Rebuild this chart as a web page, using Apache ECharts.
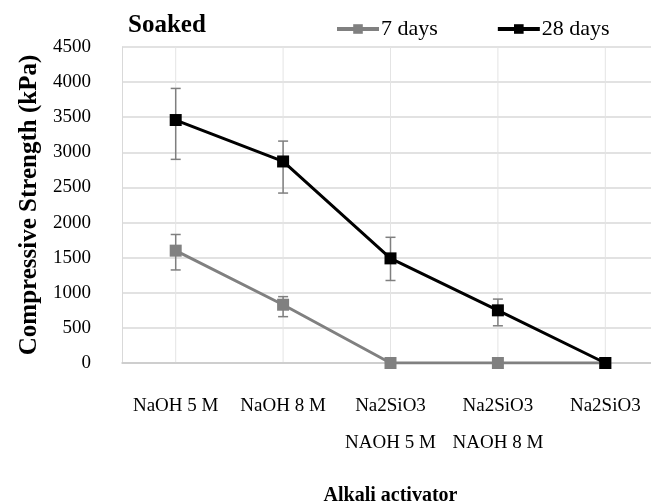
<!DOCTYPE html>
<html>
<head>
<meta charset="utf-8">
<script src="https://cdn.jsdelivr.net/npm/echarts@6/dist/echarts.min.js"></script>
<style>
  html, body { margin: 0; padding: 0; background: #fff; }
  #chart { width: 651px; height: 502px; }
</style>
</head>
<body>
<div id="chart"></div>
<script>
// Alkali activator categories (second line = NaOH molarity of the blend)
const categories = ['NaOH 5 M', 'NaOH 8 M', 'Na2SiO3\nNAOH 5 M', 'Na2SiO3\nNAOH 8 M', 'Na2SiO3'];

// Compressive strength (kPa), soaked specimens
const days7 = [1600, 830, 0, 0, 0];
const days28 = [3460, 2870, 1490, 750, 0];

// Error bar extents (low, high) per category; null = no bar
const days7Low = [1325, 660, null, null, null];
const days7High = [1830, 945, null, null, null];
const days28Low = [2900, 2420, 1175, 530, null];
const days28High = [3910, 3160, 1790, 910, null];

// Y axis ticks
const yMin = 0, yMax = 4500, yStep = 500;

const FONT = 'Liberation Serif';
const GRID_COLOR = '#d9d9d9';
const ERR_COLOR = '#7f7f7f';

function errData(low, high) {
  const out = [];
  low.forEach((lo, i) => { if (lo !== null) out.push([i, lo, high[i]]); });
  return out;
}

function renderErr(params, api) {
  const x = api.value(0);
  const lo = api.coord([x, api.value(1)]);
  const hi = api.coord([x, api.value(2)]);
  const cap = 5;
  const style = { stroke: ERR_COLOR, lineWidth: 1.5 };
  return {
    type: 'group',
    children: [
      { type: 'line', shape: { x1: lo[0], y1: lo[1], x2: hi[0], y2: hi[1] }, style },
      { type: 'line', shape: { x1: lo[0] - cap, y1: lo[1], x2: lo[0] + cap, y2: lo[1] }, style },
      { type: 'line', shape: { x1: hi[0] - cap, y1: hi[1], x2: hi[0] + cap, y2: hi[1] }, style }
    ]
  };
}

// vertical gridlines through each category centre
function renderVGrid(params, api) {
  const x = api.value(0);
  const top = api.coord([x, yMax]);
  const bot = api.coord([x, yMin]);
  return {
    type: 'line',
    shape: { x1: top[0], y1: top[1], x2: bot[0], y2: bot[1] },
    style: { stroke: '#e4e4e4', lineWidth: 1 }
  };
}

const chart = echarts.init(document.getElementById('chart'), null, { renderer: 'canvas' });

chart.setOption({
  animation: false,
  backgroundColor: '#fff',
  title: {
    text: 'Soaked',
    left: 128,
    top: 13,
    padding: 0,
    textStyle: { fontFamily: FONT, fontWeight: 'bold', fontSize: 25, color: '#000' }
  },
  legend: {
    left: 335,
    top: 18,
    padding: 0,
    itemWidth: 42,
    itemHeight: 12,
    itemGap: 58,
    data: ['7 days', '28 days'],
    lineStyle: { width: 4 },
    textStyle: { fontFamily: FONT, fontSize: 22, color: '#000', padding: [0, 0, 0, -3] }
  },
  grid: { left: 122, top: 47, width: 537, height: 316, outerBoundsMode: 'none', containLabel: false },
  xAxis: {
    type: 'category',
    data: categories,
    boundaryGap: true,
    name: 'Alkali activator',
    nameLocation: 'middle',
    nameGap: 123,
    nameTextStyle: { fontFamily: FONT, fontWeight: 'bold', fontSize: 20, color: '#000' },
    axisLine: { show: true, lineStyle: { color: '#c8c8c8', width: 1.5 } },
    axisTick: { show: false },
    splitLine: { show: false },
    axisLabel: {
      interval: 0,
      margin: 25,
      fontFamily: FONT,
      fontSize: 19,
      lineHeight: 37,
      color: '#000'
    }
  },
  yAxis: {
    type: 'value',
    min: yMin,
    max: yMax,
    interval: yStep,
    name: 'Compressive Strength (kPa)',
    nameLocation: 'middle',
    nameRotate: 90,
    nameGap: 79,
    nameTextStyle: { fontFamily: FONT, fontWeight: 'bold', fontSize: 25, color: '#000' },
    axisLine: { show: true, lineStyle: { color: GRID_COLOR } },
    axisTick: { show: false },
    splitLine: { show: true, lineStyle: { color: GRID_COLOR, width: 1.5 } },
    axisLabel: {
      margin: 31,
      fontFamily: FONT,
      fontSize: 19,
      color: '#000',
      formatter: v => String(v)
    }
  },
  series: [
    {
      name: 'vgrid',
      type: 'custom',
      renderItem: renderVGrid,
      data: categories.map((c, i) => [i]),
      silent: true,
      z: 0
    },
    {
      name: '7 days err',
      type: 'custom',
      renderItem: renderErr,
      data: errData(days7Low, days7High),
      silent: true,
      z: 1
    },
    {
      name: '28 days err',
      type: 'custom',
      renderItem: renderErr,
      data: errData(days28Low, days28High),
      silent: true,
      z: 1
    },
    {
      name: '7 days',
      type: 'line',
      data: days7,
      symbol: 'rect',
      symbolSize: 12,
      color: '#808080',
      lineStyle: { color: '#808080', width: 3 },
      itemStyle: { color: '#808080' },
      z: 3
    },
    {
      name: '28 days',
      type: 'line',
      data: days28,
      symbol: 'rect',
      symbolSize: 12,
      color: '#000',
      lineStyle: { color: '#000', width: 3 },
      itemStyle: { color: '#000' },
      z: 4
    }
  ]
});
</script>
</body>
</html>
